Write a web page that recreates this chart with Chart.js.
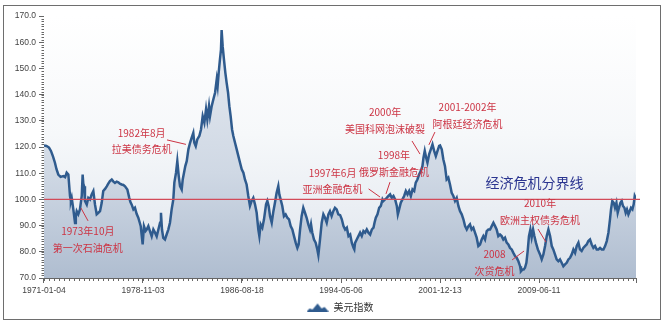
<!DOCTYPE html>
<html>
<head>
<meta charset="utf-8">
<script src="https://cdn.jsdelivr.net/npm/chart.js@4.4.1/dist/chart.umd.min.js"></script>
<style>
  html, body { margin: 0; padding: 0; background: #ffffff; }
  #wrap { position: relative; width: 671px; height: 326px; }
  #wrap canvas { position: absolute; left: 0; top: 0; }
  #frame { position: absolute; left: 3px; top: 5px; width: 658px; height: 315px;
           box-sizing: border-box; border: 1.5px solid #6e6e6e; pointer-events: none; }
</style>
</head>
<body>
<div id="wrap">
  <canvas id="chart" width="671" height="326"></canvas>
  <div id="frame"></div>
</div>
<script>
// U.S. Dollar Index, 1971 - 2016 (decimal year, index level)
const years = [
  1971.01,1971.2,1971.4,1971.55,1971.7,1971.86,1971.98,1972.12,1972.3,1972.51,1972.65,1972.77,1972.9,
  1973.03,1973.1,1973.16,1973.28,1973.42,1973.48,1973.55,1973.67,1973.8,1973.94,1974.01,1974.06,1974.12,
  1974.19,1974.33,1974.45,1974.58,1974.71,1974.84,1974.97,1975.1,1975.23,1975.36,1975.49,1975.61,1975.75,
  1975.88,1976.0,1976.13,1976.27,1976.4,1976.52,1976.65,1976.78,1976.9,1977.04,1977.17,1977.3,1977.48,
  1977.63,1977.72,1977.82,1977.95,1978.07,1978.2,1978.33,1978.45,1978.52,
  1978.67,1978.77,1978.9,1978.98,1979.11,1979.24,1979.37,1979.5,1979.63,1979.76,1979.89,1980.02,1980.09,
  1980.17,1980.27,1980.4,1980.53,1980.66,1980.79,1980.92,1981.05,1981.13,1981.26,1981.36,1981.47,1981.57,
  1981.7,1981.78,1981.88,1981.98,1982.09,1982.22,1982.35,1982.47,1982.6,1982.68,1982.79,1982.91,1983.07,
  1983.2,1983.33,1983.46,1983.59,1983.69,1983.82,1983.9,1984.03,1984.16,1984.29,1984.42,1984.49,1984.57,
  1984.67,1984.75,1984.8,1984.88,1984.98,1985.09,1985.19,1985.3,1985.4,1985.5,1985.61,1985.71,1985.84,
  1985.97,1986.1,
  1986.23,1986.36,1986.49,1986.61,1986.74,1986.87,1987.0,1987.13,1987.26,1987.39,1987.52,1987.65,1987.73,
  1987.83,1987.96,1988.09,1988.25,1988.35,1988.45,1988.56,1988.69,1988.82,1988.94,1989.07,1989.2,1989.28,
  1989.38,1989.51,1989.64,1989.77,1989.9,1990.03,1990.16,1990.29,1990.42,1990.55,1990.68,1990.78,1990.89,
  1991.01,1991.14,1991.27,1991.4,1991.53,1991.66,1991.74,1991.84,1991.97,1992.1,1992.23,1992.31,1992.44,
  1992.57,1992.7,1992.83,1992.96,1993.09,1993.21,1993.34,1993.47,1993.6,1993.73,1993.86,
  1994.0,1994.13,1994.26,1994.39,1994.52,1994.65,1994.78,1994.91,1995.04,1995.1,1995.16,1995.29,1995.42,
  1995.55,1995.68,1995.81,1995.94,1996.07,1996.2,1996.33,1996.46,1996.59,1996.67,1996.77,1996.9,1997.03,
  1997.16,1997.29,1997.36,1997.49,1997.62,1997.75,1997.88,1998.01,1998.14,1998.27,1998.4,1998.48,1998.58,
  1998.71,1998.84,1998.97,1999.1,1999.23,1999.36,1999.49,1999.62,1999.75,1999.87,2000.0,2000.13,2000.26,
  2000.39,2000.47,2000.57,2000.68,2000.78,2000.91,2001.04,2001.17,2001.3,
  2001.43,2001.56,2001.69,2001.76,2001.89,2002.01,2002.14,2002.27,2002.4,2002.53,2002.66,2002.79,2002.92,
  2003.05,2003.18,2003.31,2003.44,2003.57,2003.7,2003.83,2003.96,2004.08,2004.21,2004.34,2004.47,2004.6,
  2004.73,2004.86,2004.99,2005.12,2005.25,2005.38,2005.51,2005.64,2005.77,2005.9,2006.03,2006.15,2006.28,
  2006.41,2006.54,2006.67,2006.8,2006.93,2007.06,2007.19,2007.32,2007.45,2007.58,2007.71,2007.84,2007.97,
  2008.04,2008.15,2008.25,2008.35,2008.46,2008.56,2008.66,2008.77,2008.87,2008.98,2009.08,
  2009.2,2009.35,2009.52,2009.65,2009.78,2009.91,2010.04,2010.17,2010.3,2010.43,2010.55,2010.68,2010.81,
  2010.94,2011.07,2011.2,2011.33,2011.46,2011.59,2011.72,2011.85,2011.98,2012.11,2012.24,2012.37,2012.5,
  2012.62,2012.75,2012.88,2013.01,2013.14,2013.27,2013.4,2013.53,2013.66,2013.79,2013.92,2014.05,2014.18,
  2014.31,2014.44,2014.57,2014.7,2014.83,2014.95,2015.03,2015.13,2015.24,2015.34,2015.45,2015.55,2015.65,
  2015.76,2015.86,2015.96,2016.07,2016.17,2016.27,2016.38,2016.48,2016.58,2016.69,2016.79,2016.87,2016.97
];

const dollarIndex = [
  120.6,120.4,119.8,118.5,116.5,114.0,111.5,109.5,108.6,108.9,108.5,110.2,109.5,
  101.3,99.4,100.6,96.5,91.0,93.5,95.5,94.3,96.2,101.3,109.5,106.0,105.0,
  99.4,98.0,100.6,100.0,101.9,103.2,98.0,94.3,94.9,95.5,98.7,103.2,104.0,
  105.0,106.0,107.0,107.6,106.8,106.3,106.8,106.5,106.0,105.7,105.5,105.0,103.8,
  100.6,99.0,98.0,96.2,96.8,94.5,93.0,91.0,89.8,
  82.8,89.8,88.0,88.5,89.8,87.8,85.9,88.5,87.3,85.9,88.5,91.1,94.9,
  88.5,85.3,84.7,86.6,88.5,91.1,96.2,100.0,106.4,110.2,114.6,108.9,105.1,
  103.8,107.6,110.2,112.7,114.6,119.1,121.6,123.5,125.4,121.6,120.3,122.9,124.2,
  126.7,131.8,129.3,134.4,130.5,135.6,131.8,135.6,138.2,140.7,145.8,143.3,148.3,
  153.4,157.2,164.6,158.5,153.4,148.3,144.5,140.7,135.6,131.8,126.7,124.2,121.6,
  119.1,116.5,
  114.0,111.5,110.2,107.6,105.7,101.3,97.5,99.4,100.6,98.1,94.9,88.5,86.0,
  90.5,89.2,92.4,98.1,99.4,97.5,93.6,91.1,95.5,98.7,102.5,105.1,101.9,
  100.0,97.5,93.6,94.3,93.0,92.4,89.8,88.5,86.0,83.5,81.5,82.8,88.5,
  93.6,96.8,94.9,93.0,90.5,88.5,90.5,87.3,84.7,83.5,80.9,78.8,84.7,
  91.1,94.3,93.0,91.1,94.3,95.5,93.6,95.5,96.8,96.2,94.3,
  94.0,92.4,89.8,88.5,89.2,86.0,86.6,83.4,81.5,80.9,83.4,84.7,86.0,
  87.3,86.0,87.9,87.3,88.5,87.3,86.6,88.5,89.2,91.1,93.0,94.3,96.8,
  97.5,100.0,99.4,100.0,100.6,101.3,101.9,100.6,101.3,100.0,97.5,94.3,96.2,
  98.7,100.0,101.3,103.2,101.9,103.2,101.3,103.8,103.2,106.4,107.6,109.5,110.8,
  112.7,115.9,118.5,115.9,114.0,117.2,119.1,121.0,118.5,
  116.5,118.5,120.4,120.6,119.1,115.3,112.7,107.6,108.3,105.7,102.5,101.3,99.4,
  100.6,97.5,95.5,94.3,92.4,89.8,88.5,89.8,90.5,88.5,89.2,87.3,85.4,
  82.2,82.8,84.7,86.0,84.7,87.9,88.5,88.5,89.8,91.1,89.8,88.5,86.0,
  86.6,86.0,84.7,85.4,83.5,82.8,81.5,80.9,79.6,78.4,77.7,76.4,74.5,
  72.6,73.2,73.2,73.9,75.8,80.3,86.0,88.5,85.5,88.5,86.0,
  83.5,80.9,79.0,77.1,79.0,82.2,86.0,88.5,86.0,82.2,80.9,79.0,77.1,
  76.4,77.1,75.8,74.5,75.2,75.8,77.1,77.7,79.0,80.9,79.6,82.2,83.5,
  80.9,80.3,81.5,82.2,82.8,84.1,84.7,82.8,81.5,82.2,80.9,80.9,81.5,
  80.9,80.9,82.2,84.1,87.3,92.4,96.2,99.4,98.7,96.8,98.7,94.9,96.8,
  98.7,99.4,97.5,96.8,94.9,96.2,94.3,95.5,96.8,96.2,98.1,101.3,100.2
];

const seriesName = '美元指数';
const tickLabels = ['1971-01-04', '1978-11-03', '1986-08-18', '1994-05-06', '2001-12-13', '2009-06-11'];
const yRange = { min: 70, max: 170, step: 10 };
const boundaryValue = 100;
const boundaryLabel = { text: '经济危机分界线', x: 2009.09, y: 106.2 };

// Crisis notes: text block centre (year, level) and a leader line from -> to
const crisisNotes = [
  { lines: ['1973年10月', '第一次石油危机'], x: 1974.41, y: 87.7, from: [1974.43, 91.8], to: [1973.88, 96.7] },
  { lines: ['1982年8月', '拉美债务危机'], x: 1978.59, y: 125.3, from: [1980.56, 122.7], to: [1982.03, 121.0] },
  { lines: ['1997年6月', '亚洲金融危机'], x: 1993.41, y: 110.0, from: [1996.21, 104.0], to: [1997.10, 100.9] },
  { lines: ['1998年', '俄罗斯金融危机'], x: 1998.18, y: 116.8, from: [1997.87, 106.6], to: [1997.56, 102.1] },
  { lines: ['2000年', '美国科网泡沫破裂'], x: 1997.49, y: 133.2, from: [1999.58, 122.3], to: [2000.20, 117.3] },
  { lines: ['2001-2002年', '阿根廷经济危机'], x: 2003.89, y: 135.0, from: [2001.36, 125.7], to: [2000.89, 120.8] },
  { lines: ['2008', '次贷危机'], x: 2005.99, y: 79.0, from: [2007.35, 76.9], to: [2008.28, 80.3] },
  { lines: ['2010年', '欧洲主权债务危机'], x: 2009.52, y: 98.5, from: [2009.36, 88.7], to: [2009.98, 83.7] }
];

function toDecimalYear(s) {
  const [y, m, d] = s.split('-').map(Number);
  const start = Date.UTC(y, 0, 1);
  const days = (Date.UTC(y, m - 1, d) - start) / 86400000;
  return y + days / 365.25;
}

const xMin = years[0];
const xMax = years[years.length - 1];
const firstTick = toDecimalYear(tickLabels[0]);
const lastTick = toDecimalYear(tickLabels[tickLabels.length - 1]);
const tickStep = (lastTick - firstTick) / (tickLabels.length - 1);
const tickValues = tickLabels.map((_, i) => firstTick + i * tickStep);

const points = years.map((x, i) => ({ x, y: dollarIndex[i] }));

const CJK = '"Noto Sans CJK SC", "Noto Sans", sans-serif';
const LATIN = '"Liberation Sans", Arial, sans-serif';
const lineBlue = '#2f5b8e';
const noteRed = '#cc3444';

// small mountain glyph for the legend
const legendIcon = (() => {
  const c = document.createElement('canvas');
  c.width = 22; c.height = 9;
  const g = c.getContext('2d');
  g.fillStyle = lineBlue;
  g.beginPath();
  g.moveTo(0, 9); g.lineTo(3, 6); g.lineTo(6, 7); g.lineTo(11, 1);
  g.lineTo(15, 6); g.lineTo(18, 4.5); g.lineTo(22, 9);
  g.closePath(); g.fill();
  return c;
})();

const plotBackground = {
  id: 'plotBackground',
  beforeDatasetsDraw(chart) {
    const { ctx, chartArea: a } = chart;
    const g = ctx.createLinearGradient(0, a.top, 0, a.bottom);
    g.addColorStop(0, '#ffffff');
    g.addColorStop(0.45, '#f6f8fa');
    g.addColorStop(1, '#dfe5ed');
    ctx.save();
    ctx.fillStyle = g;
    ctx.fillRect(a.left, a.top, a.right - a.left, a.bottom - a.top);
    ctx.restore();
  }
};

const minorTicks = {
  id: 'minorTicks',
  afterDraw(chart) {
    const { ctx, chartArea: a, scales: { x, y } } = chart;
    ctx.save();
    ctx.strokeStyle = '#666';
    ctx.lineWidth = 1;
    ctx.beginPath();
    const xs = tickStep / 20;
    for (let v = firstTick; v <= xMax + 1e-6; v += xs) {
      const px = Math.round(x.getPixelForValue(v)) + 0.5;
      ctx.moveTo(px, a.bottom); ctx.lineTo(px, a.bottom + 3);
    }
    const endX = Math.round(a.right) + 0.5;
    ctx.moveTo(endX, a.bottom); ctx.lineTo(endX, a.bottom + 5);
    for (let v = yRange.min; v <= yRange.max; v += 1) {
      const py = Math.round(y.getPixelForValue(v)) + 0.5;
      ctx.moveTo(a.left - 2.5, py); ctx.lineTo(a.left, py);
    }
    ctx.stroke();
    ctx.restore();
  }
};

const notes = {
  id: 'notes',
  afterDatasetsDraw(chart) {
    const { ctx, chartArea: a, scales: { x, y } } = chart;
    ctx.save();
    // boundary line
    const by = y.getPixelForValue(boundaryValue);
    ctx.strokeStyle = '#d24a58';
    ctx.lineWidth = 1.3;
    ctx.beginPath();
    ctx.moveTo(a.left, by); ctx.lineTo(a.right + 4, by);
    ctx.stroke();

    ctx.textAlign = 'center';
    ctx.textBaseline = 'middle';
    ctx.fillStyle = '#2b3590';
    ctx.font = '14px ' + CJK;
    ctx.fillText(boundaryLabel.text, x.getPixelForValue(boundaryLabel.x), y.getPixelForValue(boundaryLabel.y));

    ctx.font = '10px ' + CJK;
    ctx.fillStyle = noteRed;
    ctx.strokeStyle = noteRed;
    ctx.lineWidth = 1;
    for (const n of crisisNotes) {
      ctx.beginPath();
      ctx.moveTo(x.getPixelForValue(n.from[0]), y.getPixelForValue(n.from[1]));
      ctx.lineTo(x.getPixelForValue(n.to[0]), y.getPixelForValue(n.to[1]));
      ctx.stroke();
      const cx = x.getPixelForValue(n.x);
      const cy = y.getPixelForValue(n.y);
      n.lines.forEach((t, i) => ctx.fillText(t, cx, cy + i * 16.5));
    }
    ctx.restore();
  }
};

new Chart(document.getElementById('chart'), {
  type: 'line',
  data: {
    datasets: [{
      label: seriesName,
      data: points,
      borderColor: lineBlue,
      borderWidth: 2.5,
      borderJoinStyle: 'miter',
      pointRadius: 0,
      tension: 0,
      fill: 'start',
      backgroundColor(context) {
        const { chart } = context;
        const a = chart.chartArea;
        if (!a) return 'rgba(0,0,0,0)';
        const g = chart.ctx.createLinearGradient(0, a.top, 0, a.bottom);
        g.addColorStop(0, '#e9edf3');
        g.addColorStop(0.6, '#cfd8e4');
        g.addColorStop(1, '#afbdd0');
        return g;
      }
    }]
  },
  options: {
    responsive: false,
    animation: false,
    devicePixelRatio: 1,
    layout: { padding: { top: 16, right: 35, bottom: 4, left: 0 } },
    scales: {
      x: {
        type: 'linear',
        min: xMin,
        max: xMax,
        afterBuildTicks(scale) { scale.ticks = tickValues.map(v => ({ value: v })); },
        afterFit(scale) { scale.height = 18; },
        ticks: {
          autoSkip: false, maxRotation: 0, padding: 3,
          color: '#444', font: { family: LATIN, size: 8.5 },
          callback: (v, i) => tickLabels[i]
        },
        grid: { drawOnChartArea: false, drawTicks: true, tickLength: 5, color: '#666' },
        border: { display: true, color: '#666', width: 1 }
      },
      y: {
        min: yRange.min,
        max: yRange.max,
        afterFit(scale) { scale.width = 44; },
        ticks: {
          stepSize: yRange.step, padding: 3,
          color: '#444', font: { family: LATIN, size: 8.5 },
          callback: v => Number(v).toFixed(1)
        },
        grid: { drawOnChartArea: false, drawTicks: true, tickLength: 5, color: '#666' },
        border: { display: true, color: '#666', width: 1 }
      }
    },
    plugins: {
      legend: {
        position: 'bottom',
        fullSize: false,
        labels: {
          usePointStyle: true,
          pointStyle: legendIcon,
          pointStyleWidth: 22,
          boxHeight: 9,
          padding: 6,
          color: '#333',
          font: { family: CJK, size: 10 }
        }
      },
      tooltip: { enabled: false }
    }
  },
  plugins: [plotBackground, minorTicks, notes]
});
</script>
</body>
</html>
